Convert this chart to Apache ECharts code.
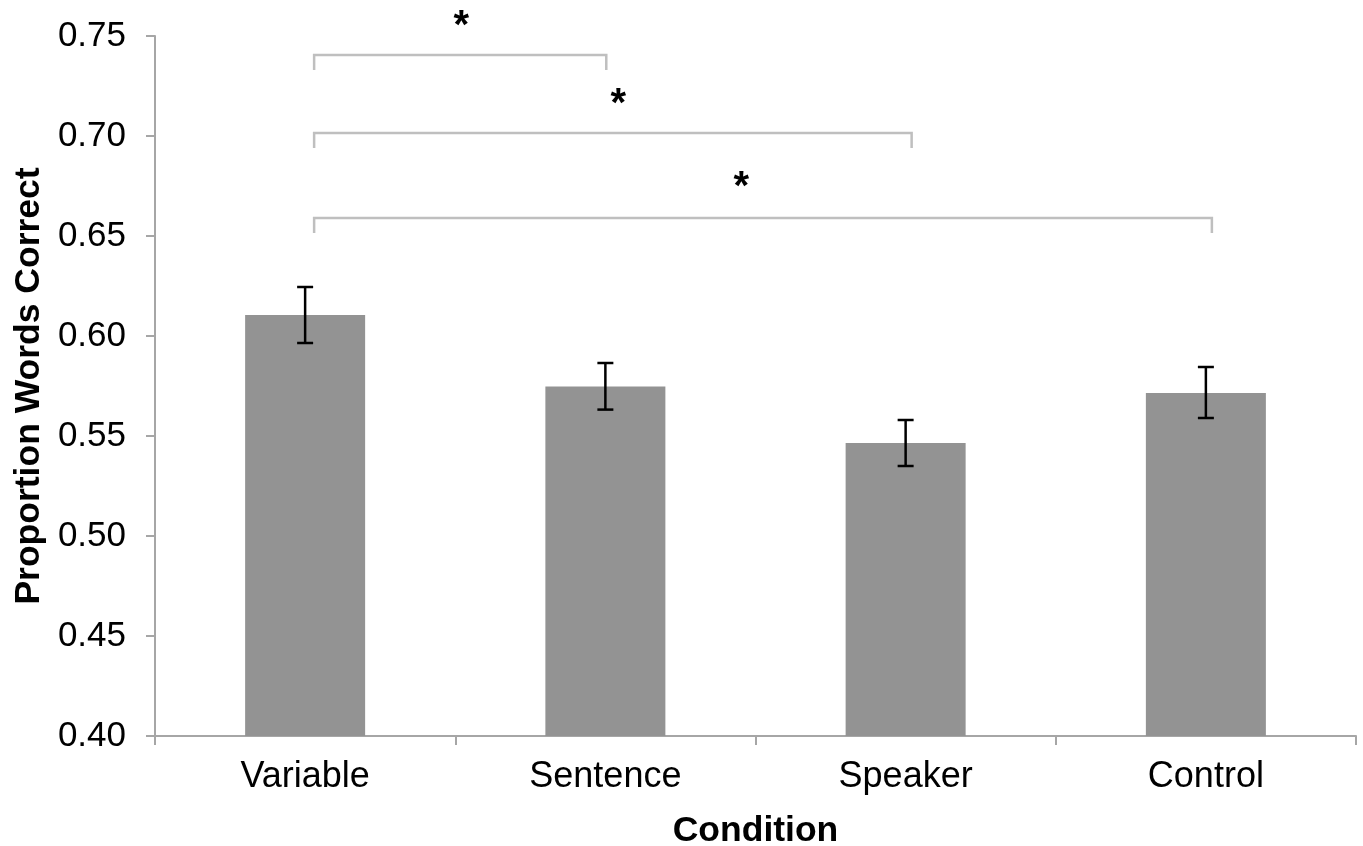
<!DOCTYPE html>
<html>
<head>
<meta charset="utf-8">
<script src="https://cdn.jsdelivr.net/npm/echarts@6/dist/echarts.min.js"></script>
<style>
  html, body { margin: 0; padding: 0; background: #fff; }
  #chart { width: 1363px; height: 846px; }
</style>
</head>
<body>
<div id="chart"></div>
<script>
// 条件与正确率
const categories = ['Variable', 'Sentence', 'Speaker', 'Control'];
const meanValues = [0.6105, 0.5748, 0.5465, 0.5715];
const errLow = [0.5965, 0.5632, 0.5350, 0.5590];
const errHigh = [0.6245, 0.5865, 0.5580, 0.5845];
const yTicks = [0.40, 0.45, 0.50, 0.55, 0.60, 0.65, 0.70, 0.75];

// 显著性括号: [起点, 终点, 高度]
const brackets = [
    [0.03, 1.003, 0.7405],
    [0.03, 2.02, 0.7015],
    [0.03, 3.02, 0.659]
];
const stars = [
    [0.52, 0.7545],
    [1.043, 0.7155],
    [1.453, 0.674]
];

const font = 'Liberation Sans, Arial, sans-serif';
const chart = echarts.init(document.getElementById('chart'));

const option = {
    animation: false,
    grid: { left: 155, right: 7, top: 36, bottom: 110, outerBoundsMode: 'none', containLabel: false },
    xAxis: [
        {
            type: 'category',
            data: categories,
            name: 'Condition',
            nameLocation: 'middle',
            nameGap: 77,
            nameTextStyle: { fontFamily: font, fontSize: 35.5, fontWeight: 'bold', color: '#000' },
            axisLine: { onZero: false, lineStyle: { color: '#a6a6a6', width: 2 } },
            axisTick: { show: true, length: 9, lineStyle: { color: '#a6a6a6', width: 2 } },
            axisLabel: { fontFamily: font, fontSize: 36, color: '#000', margin: 23 }
        },
        {
            type: 'value',
            min: -0.5,
            max: 3.5,
            show: false
        }
    ],
    yAxis: {
        type: 'value',
        min: yTicks[0],
        max: yTicks[yTicks.length - 1],
        interval: 0.05,
        name: 'Proportion Words Correct',
        nameLocation: 'middle',
        nameGap: 106,
        nameTextStyle: { fontFamily: font, fontSize: 35.5, fontWeight: 'bold', color: '#000' },
        splitLine: { show: false },
        axisLine: { show: true, onZero: false, lineStyle: { color: '#a6a6a6', width: 2 } },
        axisTick: { show: true, length: 9, lineStyle: { color: '#a6a6a6', width: 2 } },
        axisLabel: {
            fontFamily: font, fontSize: 35, color: '#000', margin: 29,
            formatter: v => v.toFixed(2)
        }
    },
    series: [
        {
            type: 'bar',
            data: meanValues,
            barWidth: 120,
            itemStyle: { color: '#939393' }
        },
        {
            type: 'custom',
            data: categories.map((c, i) => [i, errLow[i], errHigh[i]]),
            renderItem: function (params, api) {
                const lo = api.coord([api.value(0), api.value(1)]);
                const hi = api.coord([api.value(0), api.value(2)]);
                const half = 8;
                const style = { stroke: '#000', lineWidth: 2.5 };
                return {
                    type: 'group',
                    children: [
                        { type: 'line', shape: { x1: hi[0], y1: hi[1], x2: lo[0], y2: lo[1] }, style },
                        { type: 'line', shape: { x1: hi[0] - half, y1: hi[1], x2: hi[0] + half, y2: hi[1] }, style },
                        { type: 'line', shape: { x1: lo[0] - half, y1: lo[1], x2: lo[0] + half, y2: lo[1] }, style }
                    ]
                };
            },
            z: 5
        },
        {
            type: 'custom',
            xAxisIndex: 1,
            clip: false,
            data: brackets,
            renderItem: function (params, api) {
                const a = api.coord([api.value(0), api.value(2)]);
                const b = api.coord([api.value(1), api.value(2)]);
                const drop = 15;
                return {
                    type: 'polyline',
                    shape: { points: [[a[0], a[1] + drop], [a[0], a[1]], [b[0], b[1]], [b[0], b[1] + drop]] },
                    style: { stroke: '#bfbfbf', lineWidth: 2.5, fill: null }
                };
            },
            z: 4
        },
        {
            type: 'custom',
            xAxisIndex: 1,
            clip: false,
            data: stars,
            renderItem: function (params, api) {
                const p = api.coord([api.value(0), api.value(1)]);
                return {
                    type: 'text',
                    x: p[0],
                    y: p[1],
                    style: {
                        text: '*', fontFamily: font, fontSize: 40, fontWeight: 'bold', fill: '#000',
                        align: 'center', verticalAlign: 'middle'
                    }
                };
            },
            z: 6
        }
    ]
};

chart.setOption(option);
</script>
</body>
</html>
